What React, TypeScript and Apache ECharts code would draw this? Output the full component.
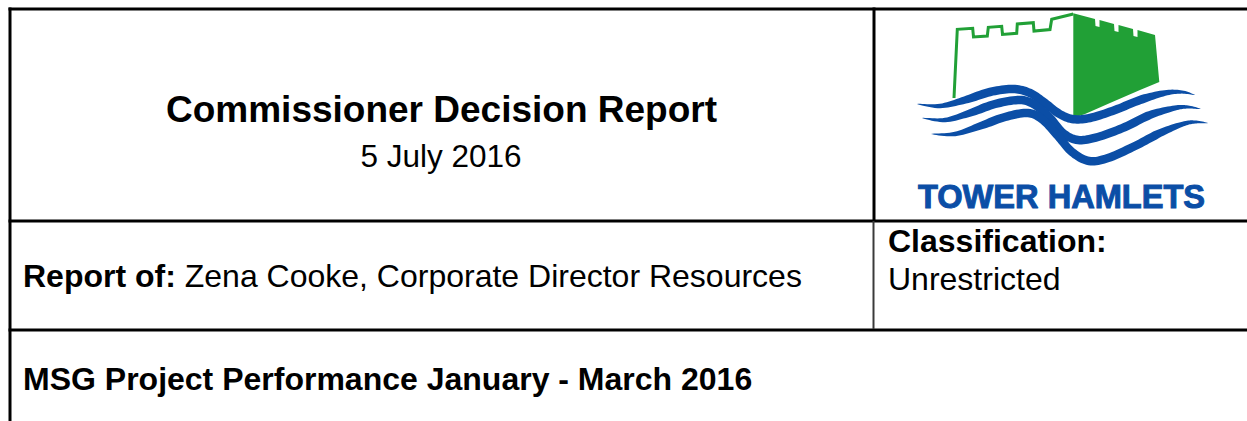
import React, { useEffect, useRef } from 'react';
import * as echarts from 'echarts';

// ---- texts ----
const titleText = 'Commissioner Decision Report';
const dateText = '5 July 2016';
const reportLabel = 'Report of:';
const reportName = ' Zena Cooke, Corporate Director Resources';
const classLabel = 'Classification:';
const classValue = 'Unrestricted';
const projectTitle = 'MSG Project Performance January - March 2016';
const logoText = 'TOWER HAMLETS';

// ---- logo wave centre lines ----
const waveTop: number[][] = [
  [917, 104], [940, 106], [965, 100], [990, 92], [1013, 89], [1030, 93], [1045, 103],
  [1058, 113], [1072, 119], [1090, 118], [1115, 110], [1140, 100], [1165, 93], [1182, 92], [1195, 95],
];
const waveMid: number[][] = [
  [922, 118], [945, 120], [970, 113], [995, 104], [1020, 100], [1035, 105], [1050, 118],
  [1063, 133], [1078, 140], [1098, 137], [1125, 127], [1150, 115], [1175, 108], [1188, 107], [1201, 109],
];
const waveLow: number[][] = [
  [931, 134], [955, 134], [980, 126], [1005, 117], [1028, 113], [1043, 120], [1058, 136],
  [1072, 152], [1089, 161], [1108, 158], [1135, 146], [1160, 133], [1183, 124], [1195, 122], [1208, 123],
];

const castleOutline: number[][] = [
  [954, 98], [957.3, 29.3], [972.7, 28.3], [973.5, 37], [987.3, 36], [988.3, 27.3], [1001.7, 26.3],
  [1002.5, 34.5], [1016.7, 33.3], [1017.3, 24], [1033.3, 22.7], [1034, 31], [1050, 29.5],
  [1051.7, 19.3], [1073.3, 14],
];
const castleFace: number[][] = [
  [1073.3, 13.3], [1095, 19], [1095.5, 26], [1099.5, 27], [1099.5, 20], [1114, 24], [1114.5, 31],
  [1118.5, 32], [1118.5, 25], [1133, 29], [1133.5, 36], [1137.5, 37], [1137.5, 30], [1155, 35],
  [1159.3, 82], [1140, 90], [1110, 103], [1085, 114], [1073.3, 118],
];

const FONT = '"Liberation Sans", Arial, Helvetica, sans-serif';
const GREEN = '#21a036';
const BLUE = '#0b4ea6';

function catmull(pts: number[][], n: number): number[][] {
  const out: number[][] = [];
  for (let i = 0; i < pts.length - 1; i++) {
    const p0 = pts[Math.max(i - 1, 0)];
    const p1 = pts[i];
    const p2 = pts[i + 1];
    const p3 = pts[Math.min(i + 2, pts.length - 1)];
    for (let s = 0; s < n; s++) {
      const t = s / n;
      const t2 = t * t;
      const t3 = t2 * t;
      const f = (a: number, b: number, c: number, d: number) =>
        0.5 * (2 * b + (-a + c) * t + (2 * a - 5 * b + 4 * c - d) * t2 + (-a + 3 * b - 3 * c + d) * t3);
      out.push([f(p0[0], p1[0], p2[0], p3[0]), f(p0[1], p1[1], p2[1], p3[1])]);
    }
  }
  out.push(pts[pts.length - 1]);
  return out;
}

function ribbon(pts: number[][], maxW: number): number[][] {
  const s = catmull(pts, 10);
  const len: number[] = [0];
  for (let i = 1; i < s.length; i++) {
    len.push(len[i - 1] + Math.hypot(s[i][0] - s[i - 1][0], s[i][1] - s[i - 1][1]));
  }
  const total = len[len.length - 1];
  const up: number[][] = [];
  const lo: number[][] = [];
  for (let i = 0; i < s.length; i++) {
    const a = s[Math.max(i - 1, 0)];
    const b = s[Math.min(i + 1, s.length - 1)];
    let tx = b[0] - a[0];
    let ty = b[1] - a[1];
    const m = Math.hypot(tx, ty) || 1;
    tx /= m;
    ty /= m;
    const nx = -ty;
    const ny = tx;
    const t = len[i] / total;
    const k = Math.max(0, Math.min(1, t / 0.2, (1 - t) / 0.18));
    const w = (maxW * Math.pow(k, 0.7)) / 2;
    up.push([s[i][0] + nx * w, s[i][1] + ny * w]);
    lo.push([s[i][0] - nx * w, s[i][1] - ny * w]);
  }
  return up.concat(lo.reverse());
}

function txt(text: string, x: number, y: number, size: number, weight: string, align: string, fill = '#000', extra: any = {}) {
  return {
    type: 'text',
    x,
    y,
    silent: true,
    style: {
      text,
      fontSize: size,
      fontWeight: weight,
      fontFamily: FONT,
      fill,
      align,
      verticalAlign: 'middle',
      ...extra,
    },
  };
}

function rect(x: number, y: number, w: number, h: number, fill = '#000') {
  return { type: 'rect', silent: true, shape: { x, y, width: w, height: h }, style: { fill } };
}

export default function App() {
  const ref = useRef<HTMLDivElement>(null);
  useEffect(() => {
    if (!ref.current) return;
    const chart = echarts.init(ref.current, undefined, { renderer: 'svg' });
    const elements: any[] = [
      // table rules
      rect(8.5, 7.5, 1240, 3),
      rect(8.5, 7.5, 3, 415),
      rect(8.5, 219.5, 1240, 3),
      rect(8.5, 328.5, 1240, 3),
      rect(872.5, 7.5, 3, 214),
      rect(872.5, 221, 2, 108, '#3a3a3a'),
      // header texts
      txt(titleText, 441.5, 109.9, 37, 'bold', 'center'),
      txt(dateText, 441, 156.4, 31.5, 'normal', 'center'),
      {
        type: 'text',
        x: 23,
        y: 276.4,
        silent: true,
        style: {
          text: '{b|' + reportLabel + '}' + reportName,
          fontSize: 32,
          fontFamily: FONT,
          fill: '#000',
          align: 'left',
          verticalAlign: 'middle',
          rich: { b: { fontSize: 32, fontFamily: FONT, fontWeight: 'bold', fill: '#000' } },
        },
      },
      txt(classLabel, 888, 241.2, 32, 'bold', 'left'),
      txt(classValue, 888, 278.6, 32, 'normal', 'left'),
      txt(projectTitle, 23, 378.9, 32, 'bold', 'left'),
      // logo
      { type: 'polygon', silent: true, shape: { points: castleFace }, style: { fill: GREEN } },
      {
        type: 'polyline',
        silent: true,
        shape: { points: castleOutline },
        style: { stroke: GREEN, lineWidth: 3, fill: null, lineJoin: 'miter' },
      },
      { type: 'polygon', silent: true, shape: { points: ribbon(waveTop, 8.5) }, style: { fill: BLUE } },
      { type: 'polygon', silent: true, shape: { points: ribbon(waveMid, 8.5) }, style: { fill: BLUE } },
      { type: 'polygon', silent: true, shape: { points: ribbon(waveLow, 8.5) }, style: { fill: BLUE } },
      txt(logoText, 1061.5, 196.6, 32.6, 'bold', 'center', BLUE, { stroke: BLUE, lineWidth: 1 }),
    ];
    chart.setOption({
      animation: false,
      backgroundColor: '#fff',
      graphic: { elements },
    });
    return () => chart.dispose();
  }, []);
  return (
    <div
      ref={ref}
      style={{ position: 'fixed', left: 0, top: 0, width: 1247, height: 421, background: '#fff' }}
    />
  );
}
